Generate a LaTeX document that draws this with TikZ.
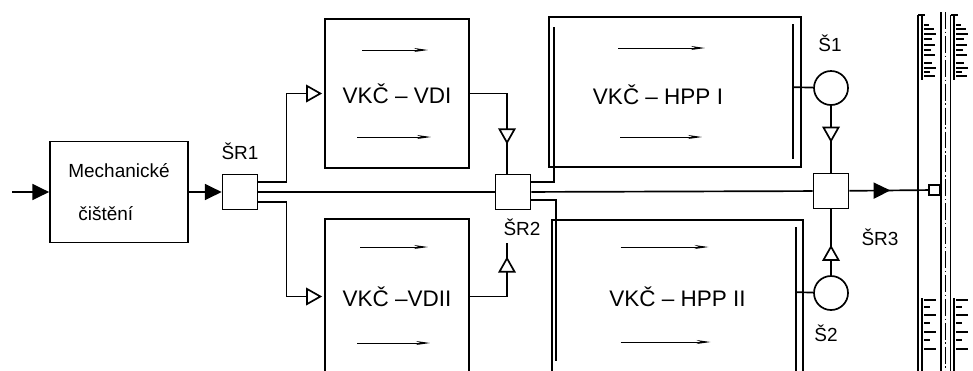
\documentclass[tikz,border=0pt]{standalone}
\usepackage{fontspec}
\setmainfont{Liberation Sans}
\usetikzlibrary{arrows.meta,positioning,calc,decorations.markings}

\begin{document}
\begin{tikzpicture}[x=0.025cm,y=-0.025cm,line width=1.2pt,
    box/.style={draw,rectangle,inner sep=0pt},
    gate/.style={draw,rectangle,fill=white,inner sep=0pt,minimum width=0.875cm,minimum height=0.875cm},
    meter/.style={draw,circle,fill=white,inner sep=0pt,minimum size=0.85cm},
    tag/.style={font=\fontsize{13.5}{15}\selectfont,inner sep=1pt},
    big/.style={font=\fontsize{16}{18}\selectfont},
    fullhead/.style={-{Triangle[length=0.42cm,width=0.4cm]}},
    openhead/.style={-{Triangle[fill=white,length=0.4cm,width=0.44cm]}},
    openmid/.style={postaction={decorate},decoration={markings,
        mark=at position #1 with {\arrow{Triangle[fill=white,length=0.4cm,width=0.44cm]}}}},
    fullmid/.style={postaction={decorate},decoration={markings,
        mark=at position #1 with {\arrow{Triangle[length=0.42cm,width=0.4cm]}}}},
    flow/.style={line width=0.7pt,-{Stealth[length=0.35cm,width=0.1cm]}}
  ]
    \clip (0,0) rectangle (973,370);

    % blocks
    \node[box,tag,align=left,minimum width=3.45cm,minimum height=2.525cm] (mech) at (119,192)
      {Mechanické\\[16pt]\hspace*{0.25cm}čištění};
    \node[gate] (sr1) at (240,192) {};
    \node[tag] (sr1lbl) at (240,151) {ŠR1};

    \node[box,big,minimum width=3.6cm,minimum height=3.725cm] (vdi) at (397,93.5) {VKČ – VDI};
    \node[box,big,minimum width=3.6cm,minimum height=3.875cm] (vdii) at (397,296.5) {VKČ –VDII};

    \node[gate] (sr2) at (513,192) {};
    \node[tag] (sr2lbl) at (522,227) {ŠR2};
    \coordinate (sr2in) at (507,243);

    \node[box,minimum width=6.3cm,minimum height=3.75cm] (hppI) at (675,92) {};
    \node[big] (hppIt) at (658,95) {VKČ – HPP I};
    \node[box,big,minimum width=6.275cm,minimum height=3.85cm] (hppII) at (677.5,297) {VKČ – HPP II};

    \coordinate (hpIl) at ($(hppI.north west)+(6,11)$);
    \coordinate (hpIr) at ($(hppI.north east)+(-9,71)$);
    \coordinate (hpIIl) at ($(hppII.south west)+(5,-14)$);
    \coordinate (hpIIr) at ($(hppII.north east)+(-8,73)$);

    \node[gate] (sr3) at (831,191) {};
    \node[tag] (sr3lbl) at (880,237) {ŠR3};
    \node[meter] (s1) at (831,88) {};
    \node[tag] (s1lbl) at (830,43) {Š1};
    \node[meter] (s2) at (831,293) {};
    \node[tag] (s2lbl) at (826,333) {Š2};

    \node[draw,rectangle,inner sep=0pt,minimum width=0.27cm,minimum height=0.25cm] (outlet) at (934.5,190) {};
    \coordinate (in) at (12,192);

    % flow arrows inside the tanks
    \draw[flow] ($(vdi.center)+(-35,-43.5)$) -- ++(66,0);
    \draw[flow] ($(vdi.center)+(-40,43.5)$) -- ++(74,0);
    \draw[flow] ($(vdii.center)+(-37,-49.5)$) -- ++(68,0);
    \draw[flow] ($(vdii.center)+(-40,46.5)$) -- ++(73,0);
    \draw[flow] ($(hppI.center)+(-57,-44)$) -- ++(87,0);
    \draw[flow] ($(hppI.center)+(-55,45)$) -- ++(82,0);
    \draw[flow] ($(hppII.center)+(-57,-50)$) -- ++(88,0);
    \draw[flow] ($(hppII.center)+(-57,45)$) -- ++(90,0);

    % inner walls of the HPP tanks
    \draw ($(hppI.north east)+(-9,8)$) -- ($(hppI.south east)+(-9,-9)$);
    \draw ($(hppII.north east)+(-8,8)$) -- ($(hppII.south east)+(-8,0)$);

    % connectors
    \draw[fullhead] (in) -- (mech);
    \draw[fullhead] (mech) -- (sr1);
    \draw[openhead] ($(sr1.east)+(0,-10)$) -- ++(28,0) |- ($(vdi.west)+(-2,0)$);
    \draw[openhead] ($(sr1.east)+(0,10)$) -- ++(28,0) |- ($(vdii.west)+(-2,0)$);
    \draw (sr1) -- (sr2);
    \draw[openmid=0.75] (vdi.east) -| ($(sr2.north)+(-6,0)$);
    \draw[openmid=0.85] (vdii.east) -| (sr2in);
    \draw ($(sr2.east)+(0,-10)$) -| (hpIl);
    \draw ($(sr2.east)+(0,8)$) -| (hpIIl);
    \draw (sr2) -- (sr3);
    \draw (hpIr) -- (s1);
    \draw (hpIIr) -- (s2);
    \draw[openmid=0.55] (s1) -- (sr3);
    \draw[openmid=0.46] (s2) -- (sr3);
    \draw[fullmid=0.52] (sr3) -- (outlet);

    % receiving stream
    \draw (918,15) -- (918,375);
    \draw (918,15) -- (925,15);
    \draw (922,15) -- (922,80);
    \draw (922,298) -- (922,375);
    \draw (941,12) -- (941,375);
    \draw[line width=0.6pt,dash pattern=on 12pt off 2pt on 1pt off 2pt] (945.5,12) -- (945.5,375);
    \draw (950.5,15) -- (950.5,375);
    \draw (950.5,15) -- (958,15);
    \draw (954,15) -- (954,80);
    \draw (954,298) -- (954,375);
    \foreach \ty/\tl in {25/5,29/10,34/12,39/8,45/11,50/7,55/11,63/8,68/12,72/6,76/11}{
      \draw[line width=0.8pt] (924,\ty) -- ++(\tl,0);
      \draw[line width=0.8pt] (956,\ty) -- ++(\tl,0);
    }
    \foreach \ty/\tl in {300/12,307/6,315/12,323/6,332/12,340/6,349/12}{
      \draw[line width=0.8pt] (924,\ty) -- ++(\tl,0);
      \draw[line width=0.8pt] (956,\ty) -- ++(\tl,0);
    }
\end{tikzpicture}
\end{document}
